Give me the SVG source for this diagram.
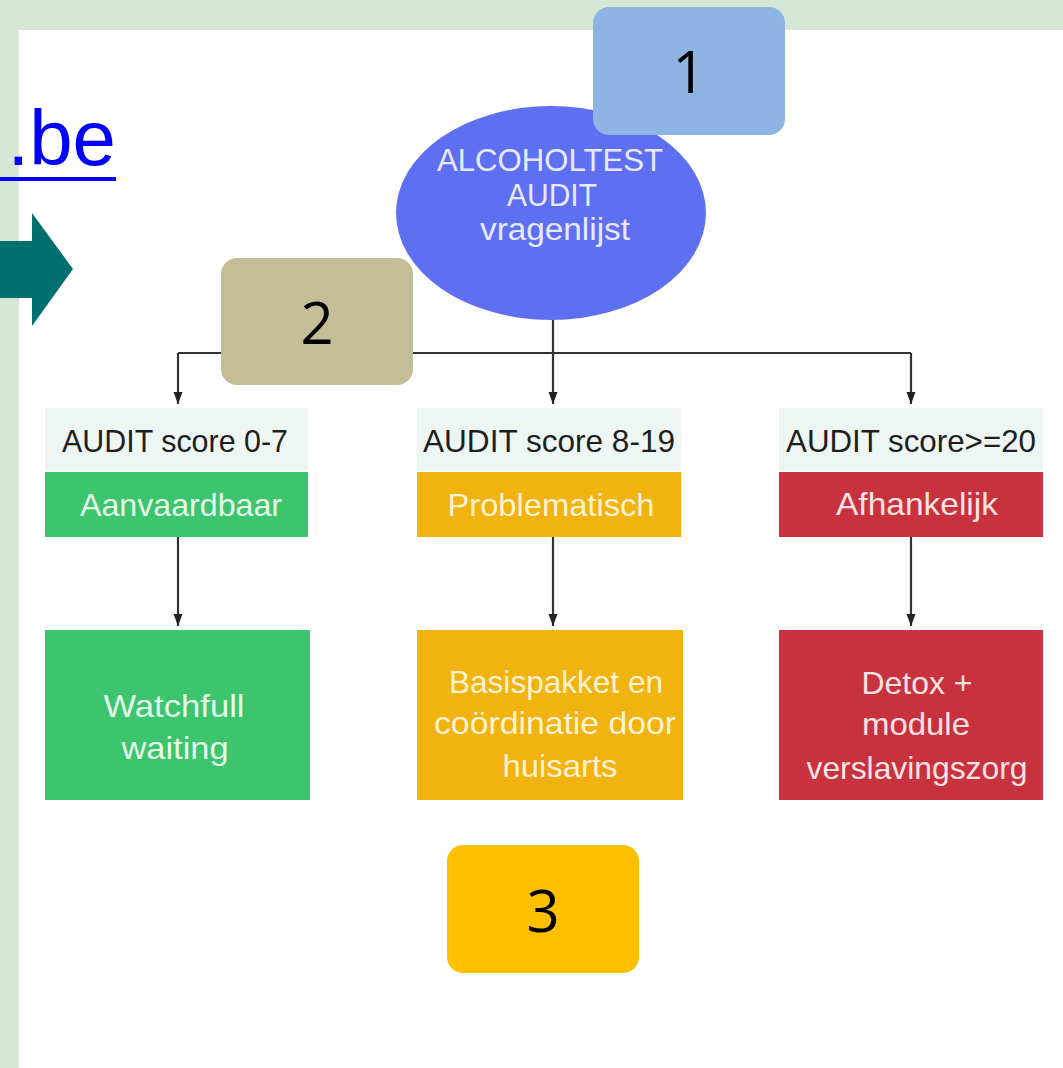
<svg xmlns="http://www.w3.org/2000/svg" width="1063" height="1068" viewBox="0 0 1063 1068">
<style>
.sans{font-family:"Liberation Sans","Open Sans",Arial,sans-serif}
.num{font-family:"Open Sans","Liberation Sans",sans-serif;font-size:58px;fill:#000;text-anchor:middle}
.lbl{font-size:30.5px;fill:#1E1E1E;text-anchor:middle}
.box{font-size:32px;text-anchor:middle}
.conn{stroke:#333;stroke-width:2.2;fill:none}
.score{fill:#EEF6F3}
</style>
<defs>
<marker id="ad" markerUnits="userSpaceOnUse" markerWidth="12" markerHeight="16" refX="16" refY="6" orient="auto" viewBox="0 0 16 12">
<path d="M0,0 L16,6 L0,12 Z" fill="#222"/>
</marker>
</defs>
<rect x="0" y="0" width="1063" height="1068" fill="#D5E8D6"/>
<rect x="19" y="30" width="1044" height="1038" fill="#FFFFFF"/>
<g id="link">
<text class="sans" x="116" y="165" font-size="78" fill="#0000FF" text-anchor="end">.be</text>
<rect x="0" y="177" width="116" height="4" fill="#0000FF"/>
</g>
<g id="teal-arrow">
<polygon points="0,241 32,241 32,213 73,269 32,326 32,298 0,298" fill="#00706F"/>
</g>
<g id="connectors">
<path class="conn" d="M553,320 V353"/>
<path class="conn" d="M178,353 H911"/>
<path class="conn" d="M178,353 V404" marker-end="url(#ad)"/>
<path class="conn" d="M553,353 V404" marker-end="url(#ad)"/>
<path class="conn" d="M911,353 V404" marker-end="url(#ad)"/>
<path class="conn" d="M178,537 V626" marker-end="url(#ad)"/>
<path class="conn" d="M553,537 V626" marker-end="url(#ad)"/>
<path class="conn" d="M911,537 V626" marker-end="url(#ad)"/>
</g>
<g id="start">
<ellipse cx="551" cy="213" rx="155" ry="107" fill="#5F6FF2"/>
<text class="sans" x="550" y="171" font-size="32" fill="#E6EAFF" text-anchor="middle" textLength="226" lengthAdjust="spacingAndGlyphs">ALCOHOLTEST</text>
<text class="sans" x="552" y="206" font-size="32" fill="#E6EAFF" text-anchor="middle" textLength="90" lengthAdjust="spacingAndGlyphs">AUDIT</text>
<text class="sans" x="555" y="240" font-size="31" fill="#E6EAFF" text-anchor="middle" textLength="150" lengthAdjust="spacingAndGlyphs">vragenlijst</text>
</g>
<g id="badge1">
<rect x="593" y="7" width="192" height="128" rx="16" fill="#8EB4E3"/>
<text class="num" x="689" y="93">1</text>
</g>
<g id="col1">
<rect class="score" x="45" y="408" width="263" height="63"/>
<text class="sans lbl" x="175" y="452" textLength="226" lengthAdjust="spacingAndGlyphs">AUDIT score 0-7</text>
<rect x="45" y="472" width="263" height="65" fill="#3CC46F"/>
<text class="sans box" x="181" y="516" fill="#E4FBE8" textLength="202" lengthAdjust="spacingAndGlyphs">Aanvaardbaar</text>
</g>
<g id="col2">
<rect class="score" x="417" y="408" width="264" height="63"/>
<text class="sans lbl" x="549" y="452" textLength="252" lengthAdjust="spacingAndGlyphs">AUDIT score 8-19</text>
<rect x="417" y="472" width="264" height="65" fill="#F0B30F"/>
<text class="sans box" x="551" y="516" fill="#FFF2D2" textLength="207" lengthAdjust="spacingAndGlyphs">Problematisch</text>
</g>
<g id="col3">
<rect class="score" x="779" y="408" width="264" height="63"/>
<text class="sans lbl" x="911" y="452" textLength="250" lengthAdjust="spacingAndGlyphs">AUDIT score&gt;=20</text>
<rect x="779" y="472" width="264" height="65" fill="#C8323F"/>
<text class="sans box" x="917" y="515" fill="#FDE2E2" textLength="162" lengthAdjust="spacingAndGlyphs">Afhankelijk</text>
</g>
<g id="out1">
<rect x="45" y="630" width="265" height="170" fill="#3CC46F"/>
<text class="sans box" x="174" y="717" fill="#E4FBE8" textLength="141" lengthAdjust="spacingAndGlyphs">Watchfull</text>
<text class="sans box" x="175" y="759" fill="#E4FBE8" textLength="107" lengthAdjust="spacingAndGlyphs">waiting</text>
</g>
<g id="out2">
<rect x="417" y="630" width="266" height="170" fill="#F0B30F"/>
<text class="sans box" x="556" y="693" fill="#FFF2D2" textLength="214" lengthAdjust="spacingAndGlyphs">Basispakket en</text>
<text class="sans box" x="555" y="734" fill="#FFF2D2" textLength="242" lengthAdjust="spacingAndGlyphs">coördinatie door</text>
<text class="sans box" x="560" y="777" fill="#FFF2D2" textLength="115" lengthAdjust="spacingAndGlyphs">huisarts</text>
</g>
<g id="out3">
<rect x="779" y="630" width="264" height="170" fill="#C8323F"/>
<text class="sans box" x="917" y="694" fill="#FDE2E2" textLength="111" lengthAdjust="spacingAndGlyphs">Detox +</text>
<text class="sans box" x="916" y="735" fill="#FDE2E2" textLength="108" lengthAdjust="spacingAndGlyphs">module</text>
<text class="sans box" x="917" y="779" fill="#FDE2E2" textLength="221" lengthAdjust="spacingAndGlyphs">verslavingszorg</text>
</g>
<g id="badge2">
<rect x="221" y="258" width="192" height="127" rx="16" fill="#C4BD97"/>
<text class="num" x="317" y="344">2</text>
</g>
<g id="badge3">
<rect x="447" y="845" width="192" height="128" rx="16" fill="#FFC000"/>
<text class="num" x="543" y="932">3</text>
</g>
</svg>
